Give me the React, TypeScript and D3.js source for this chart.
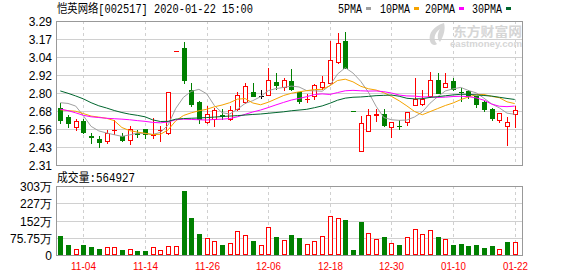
import React from 'react';
import * as d3 from 'd3';

const title = '恺英网络[002517] 2020-01-22 15:00';
const volLabel = '成交量';

const dates = [
  '10-30', '10-31', '11-01', '11-04', '11-05', '11-06', '11-07', '11-08', '11-11', '11-12',
  '11-13', '11-14', '11-15', '11-18', '11-19', '11-20', '11-21', '11-22', '11-25', '11-26',
  '11-27', '11-28', '11-29', '12-02', '12-03', '12-04', '12-05', '12-06', '12-09', '12-10',
  '12-11', '12-12', '12-13', '12-16', '12-17', '12-18', '12-19', '12-20', '12-23', '12-24',
  '12-25', '12-26', '12-27', '12-30', '12-31', '01-02', '01-03', '01-06', '01-07', '01-08',
  '01-09', '01-10', '01-13', '01-14', '01-15', '01-16', '01-17', '01-20', '01-21', '01-22',
];

const open = [
  2.698, 2.637, 2.571, 2.612, 2.510, 2.489, 2.471, 2.546, 2.507, 2.480,
  2.527, 2.555, 2.517, 2.545, 2.525, 3.086, 3.106, 2.820, 2.739, 2.600,
  2.621, 2.647, 2.623, 2.689, 2.737, 2.807, 2.782, 2.784, 2.875, 2.841,
  2.882, 2.805, 2.757, 2.782, 2.843, 2.870, 3.011, 3.154, 2.675, 2.408,
  2.539, 2.650, 2.655, 2.566, 2.577, 2.605, 2.716, 2.723, 2.782, 2.888,
  2.839, 2.882, 2.807, 2.816, 2.777, 2.739, 2.689, 2.616, 2.575, 2.659,
];
const high = [
  2.734, 2.650, 2.621, 2.620, 2.525, 2.507, 2.548, 2.616, 2.530, 2.575,
  2.545, 2.557, 2.628, 2.575, 2.805, 3.086, 3.147, 2.866, 2.745, 2.712,
  2.698, 2.693, 2.714, 2.809, 2.870, 2.870, 2.822, 2.968, 2.937, 2.905,
  2.963, 2.810, 2.791, 2.860, 2.916, 3.154, 3.206, 3.213, 2.675, 2.646,
  2.689, 2.689, 2.689, 2.600, 2.616, 2.670, 2.900, 2.820, 2.945, 2.934,
  2.934, 2.905, 2.832, 2.820, 2.780, 2.745, 2.695, 2.667, 2.639, 2.714,
];
const low = [
  2.594, 2.571, 2.548, 2.530, 2.457, 2.435, 2.462, 2.521, 2.476, 2.453,
  2.500, 2.492, 2.492, 2.476, 2.520, 3.086, 2.866, 2.710, 2.598, 2.598,
  2.575, 2.620, 2.617, 2.687, 2.732, 2.782, 2.764, 2.784, 2.827, 2.820,
  2.820, 2.730, 2.741, 2.760, 2.827, 2.862, 3.002, 2.968, 2.675, 2.408,
  2.539, 2.609, 2.578, 2.498, 2.555, 2.580, 2.716, 2.720, 2.770, 2.798,
  2.839, 2.820, 2.748, 2.764, 2.707, 2.680, 2.616, 2.605, 2.446, 2.566,
];
const close = [
  2.618, 2.598, 2.609, 2.535, 2.503, 2.466, 2.525, 2.550, 2.482, 2.553,
  2.524, 2.519, 2.522, 2.550, 2.805, 3.086, 2.891, 2.723, 2.621, 2.655,
  2.684, 2.645, 2.682, 2.784, 2.848, 2.782, 2.782, 2.886, 2.857, 2.886,
  2.827, 2.748, 2.760, 2.852, 2.875, 3.022, 3.138, 2.972, 2.675, 2.594,
  2.650, 2.655, 2.584, 2.600, 2.575, 2.668, 2.757, 2.760, 2.886, 2.802,
  2.868, 2.827, 2.805, 2.782, 2.723, 2.689, 2.632, 2.667, 2.605, 2.682,
];
// volume in 万 (10,000 shares)
const volume = [
  84.9, 45.4, 27.8, 45.4, 36.6, 27.8, 33.7, 36.6, 23.4, 27.8,
  19.0, 19.0, 36.6, 23.4, 41.0, 41.0, 282.5, 164.0, 93.7, 76.1,
  62.9, 45.4, 54.2, 106.9, 89.3, 62.9, 45.4, 124.4, 80.5, 67.3,
  89.3, 76.1, 49.8, 62.9, 84.9, 172.7, 164.0, 155.2, 23.4, 146.4,
  96.6, 70.3, 80.5, 52.7, 45.4, 80.5, 115.6, 93.7, 111.3, 80.5,
  71.7, 45.4, 49.8, 41.0, 45.4, 32.2, 41.0, 27.8, 58.6, 56.4927,
];

const ma5 = [
  2.734, 2.729, 2.711, 2.645, 2.573, 2.542, 2.528, 2.516, 2.505, 2.515,
  2.527, 2.524, 2.518, 2.532, 2.582, 2.696, 2.771, 2.811, 2.825, 2.795,
  2.715, 2.666, 2.657, 2.690, 2.729, 2.748, 2.775, 2.816, 2.830, 2.838,
  2.847, 2.841, 2.816, 2.815, 2.812, 2.851, 2.929, 2.972, 2.936, 2.880,
  2.806, 2.710, 2.633, 2.618, 2.614, 2.616, 2.637, 2.671, 2.730, 2.775,
  2.814, 2.828, 2.838, 2.817, 2.801, 2.765, 2.726, 2.699, 2.663, 2.655,
];
const ma10 = [
  2.686, 2.680, 2.676, 2.660, 2.643, 2.636, 2.628, 2.612, 2.565, 2.544,
  2.534, 2.526, 2.517, 2.519, 2.549, 2.611, 2.647, 2.665, 2.679, 2.689,
  2.706, 2.718, 2.734, 2.758, 2.762, 2.732, 2.720, 2.737, 2.760, 2.783,
  2.798, 2.808, 2.816, 2.823, 2.825, 2.849, 2.885, 2.894, 2.876, 2.846,
  2.829, 2.820, 2.802, 2.777, 2.747, 2.712, 2.674, 2.652, 2.673, 2.694,
  2.715, 2.732, 2.755, 2.773, 2.788, 2.790, 2.777, 2.768, 2.740, 2.728,
];
const ma20 = [
  2.690, 2.680, 2.665, 2.648, 2.638, 2.633, 2.628, 2.625, 2.622, 2.618,
  2.612, 2.607, 2.600, 2.597, 2.603, 2.618, 2.622, 2.620, 2.618, 2.616,
  2.620, 2.622, 2.626, 2.638, 2.655, 2.671, 2.684, 2.701, 2.719, 2.736,
  2.752, 2.763, 2.775, 2.790, 2.794, 2.790, 2.803, 2.815, 2.818, 2.815,
  2.813, 2.814, 2.809, 2.800, 2.786, 2.780, 2.779, 2.773, 2.774, 2.770,
  2.772, 2.776, 2.778, 2.775, 2.767, 2.751, 2.725, 2.710, 2.707, 2.711,
];
const ma30 = [
  2.814, 2.798, 2.780, 2.760, 2.734, 2.713, 2.698, 2.681, 2.667, 2.656,
  2.648, 2.638, 2.617, 2.606, 2.607, 2.622, 2.626, 2.628, 2.630, 2.633,
  2.636, 2.640, 2.643, 2.646, 2.650, 2.654, 2.657, 2.662, 2.667, 2.672,
  2.679, 2.684, 2.689, 2.700, 2.712, 2.730, 2.751, 2.765, 2.771, 2.773,
  2.777, 2.782, 2.784, 2.786, 2.778, 2.764, 2.760, 2.761, 2.770, 2.775,
  2.781, 2.787, 2.791, 2.791, 2.787, 2.783, 2.779, 2.771, 2.763, 2.756,
];

const priceTickLabels = ['3.29', '3.17', '3.04', '2.92', '2.80', '2.68', '2.56', '2.43', '2.31'];
const volTickLabels = ['303万', '227万', '152万', '75.75万', '0'];
const xTickLabels = ['11-04', '11-14', '11-26', '12-06', '12-18', '12-30', '01-10', '01-22'];
const legendNames = ['5PMA', '10PMA', '20PMA', '30PMA'];

const RED = '#ff0000';
const GREEN = '#008000';
const MA_COLORS = ['#a0a0a0', '#f5a300', '#ff00ff', '#00662e'];
const GRID = '#d0d0d0';
const FRAME = '#999999';
const SANS = '"Liberation Sans", Arial, sans-serif';
const CJK = '"Liberation Mono", "Noto Sans CJK SC", monospace';

export default function App() {
  const W = 578;
  const H = 276;
  const L = 56, R = 522, T = 21, B = 165, VT = 186, VB = 255;
  const pMin = 2.31, pMax = 3.29, vMax = 303;

  const x = d3.scalePoint<string>().domain(dates).range([60.3, 514.7]);
  const y = d3.scaleLinear().domain([pMin, pMax]).range([B, T]);
  const yv = d3.scaleLinear().domain([0, vMax]).range([VB, VT]);

  const cx = (i: number) => Math.round(x(dates[i]) as number);
  const cy = (p: number) => Math.round(y(p));

  const priceTicks = priceTickLabels.map((lab, k) => ({ lab, v: pMax - (k * (pMax - pMin)) / 8 }));
  const volTicks = volTickLabels.map((lab, k) => ({ lab, v: vMax - (k * vMax) / 4 }));

  const dir = (i: number) => {
    const o = open[i], c = close[i];
    if (c > o) return 1;
    if (c < o) return -1;
    if (i === 0) return 0;
    return c > close[i - 1] ? 1 : c < close[i - 1] ? -1 : 0;
  };
  const volUp = (i: number) => (i === 0 ? close[i] >= open[i] : close[i] >= close[i - 1]);

  const line = d3
    .line<number>()
    .x((_, i) => x(dates[i]) as number)
    .y((d) => y(d));
  const mas = [ma5, ma10, ma20, ma30];

  const legendX = [338, 380, 425, 472];
  const legendTextW = [24, 30, 30, 30];

  return (
    <div style={{ position: 'absolute', left: 0, top: 0 }}>
      <svg width={W} height={H} viewBox={`0 0 ${W} ${H}`} style={{ display: 'block', background: '#fff' }}>
        <defs>
          <clipPath id="plotClip">
            <rect x={L} y={T} width={R - L} height={B - T} />
          </clipPath>
        </defs>

        {/* title */}
        <text x={57} y={13} fontFamily={CJK} fontSize={12} fill="#000" textLength={196} lengthAdjust="spacingAndGlyphs">
          {title}
        </text>

        {/* legend */}
        {legendNames.map((n, k) => (
          <g key={n}>
            <text x={legendX[k]} y={12.5} fontFamily={CJK} fontSize={12} fill="#000" textLength={legendTextW[k]} lengthAdjust="spacingAndGlyphs">
              {n}
            </text>
            <rect x={legendX[k] + legendTextW[k] + 4} y={7} width={5} height={3} fill={MA_COLORS[k]} />
          </g>
        ))}

        {/* watermark */}
        <g fill="#d6d6d6">
          <path d="M444,23 C434,26 428,33 430,41 C431,45 435,46 437,44 C433,40 434,33 440,29 C437,34 437,39 440,42 C443,37 446,30 444,23 Z" />
          <text x={453} y={36} fontFamily='"Noto Sans CJK SC", sans-serif' fontWeight="bold" fontSize={13} textLength={69} lengthAdjust="spacingAndGlyphs">
            东方财富网
          </text>
          <text x={450} y={46.5} fontFamily={SANS} fontWeight="bold" fontSize={8.5} textLength={72} lengthAdjust="spacingAndGlyphs">
            eastmoney.com
          </text>
        </g>

        {/* grid */}
        {priceTicks.slice(1, -1).map((t) => (
          <line key={t.lab} x1={L} x2={R} y1={cy(t.v) + 0.5} y2={cy(t.v) + 0.5} stroke={GRID} strokeWidth={1} />
        ))}
        {volTicks.slice(1, -1).map((t) => (
          <line key={t.lab} x1={L} x2={R} y1={Math.round(yv(t.v)) + 0.5} y2={Math.round(yv(t.v)) + 0.5} stroke={GRID} strokeWidth={1} />
        ))}
        {xTickLabels.map((d) => (
          <g key={d}>
            <line x1={cx(dates.indexOf(d)) + 0.5} x2={cx(dates.indexOf(d)) + 0.5} y1={T} y2={B} stroke={GRID} strokeDasharray="3,3" />
            <line x1={cx(dates.indexOf(d)) + 0.5} x2={cx(dates.indexOf(d)) + 0.5} y1={VT} y2={VB} stroke={GRID} strokeDasharray="3,3" />
          </g>
        ))}

        {/* candles */}
        <g shapeRendering="crispEdges">
          {dates.map((d, i) => {
            const X = cx(i);
            const o = open[i], c = close[i], h = high[i], l = low[i];
            const dr = dir(i);
            const col = dr > 0 ? RED : dr < 0 ? GREEN : '#000';
            const top = cy(Math.max(o, c));
            const bot = cy(Math.min(o, c));
            const yH = cy(h), yL = cy(l);
            if (top === bot) {
              return (
                <g key={d}>
                  {yH < yL && <line x1={X + 0.5} x2={X + 0.5} y1={yH} y2={yL + 1} stroke={col} />}
                  <line x1={X - 2} x2={X + 3} y1={top + 0.5} y2={top + 0.5} stroke={col} />
                </g>
              );
            }
            if (c > o) {
              return (
                <g key={d}>
                  <line x1={X + 0.5} x2={X + 0.5} y1={yH} y2={top} stroke={col} />
                  <line x1={X + 0.5} x2={X + 0.5} y1={bot} y2={yL + 1} stroke={col} />
                  <rect x={X - 1.5} y={top + 0.5} width={4} height={bot - top} fill="#fff" stroke={col} />
                </g>
              );
            }
            return (
              <g key={d}>
                <line x1={X + 0.5} x2={X + 0.5} y1={yH} y2={yL + 1} stroke={col} />
                <rect x={X - 2} y={top} width={5} height={bot - top + 1} fill={col} />
              </g>
            );
          })}
        </g>

        {/* moving averages */}
        <g clipPath="url(#plotClip)" fill="none">
          {mas.map((m, k) => (
            <path key={k} d={line(m) || ''} stroke={MA_COLORS[k]} strokeWidth={1} />
          ))}
        </g>

        {/* volume bars */}
        <g shapeRendering="crispEdges">
          {dates.map((d, i) => {
            const X = cx(i);
            const yt = Math.round(yv(volume[i]));
            if (volUp(i)) {
              return <rect key={d} x={X - 1.5} y={yt + 0.5} width={4} height={VB - yt - 1} fill="#fff" stroke={RED} />;
            }
            return <rect key={d} x={X - 2} y={yt} width={5} height={VB - yt} fill={GREEN} />;
          })}
        </g>

        {/* frames */}
        <g fill="none" stroke={FRAME} strokeWidth={1} shapeRendering="crispEdges">
          <rect x={L + 0.5} y={T + 0.5} width={R - L} height={B - T} />
          <rect x={L + 0.5} y={VT + 0.5} width={R - L} height={VB - VT} />
        </g>

        {/* price axis labels */}
        {priceTicks.map((t) => (
          <text key={t.lab} x={52} y={cy(t.v) + 4.5} textAnchor="end" fontFamily={SANS} fontSize={12} fill="#000">
            {t.lab}
          </text>
        ))}

        {/* volume axis labels */}
        {volTicks.map((t) => (
          <text key={t.lab} x={52} y={Math.round(yv(t.v)) + 4.5} textAnchor="end" fontFamily={SANS} fontSize={12} fill="#000">
            {t.lab}
          </text>
        ))}

        {/* volume title */}
        <text x={57} y={182} fontFamily={CJK} fontSize={12} fill="#000" textLength={78} lengthAdjust="spacingAndGlyphs">
          {volLabel + ':' + Math.round(volume[volume.length - 1] * 10000)}
        </text>

        {/* x labels */}
        {xTickLabels.map((d) => (
          <text key={d} x={cx(dates.indexOf(d)) + 0.5} y={270} textAnchor="middle" fontFamily={SANS} fontSize={11} fill={RED} textLength={25} lengthAdjust="spacingAndGlyphs">
            {d}
          </text>
        ))}
      </svg>
    </div>
  );
}
